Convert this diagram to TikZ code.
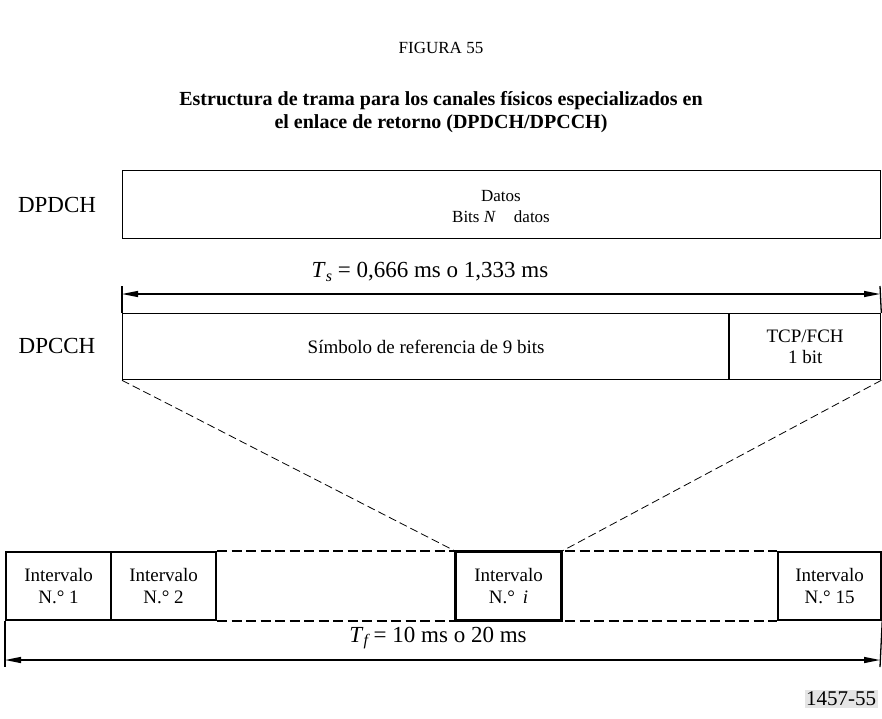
\documentclass[tikz,border=0pt]{standalone}
\usepackage{fontspec}
\setmainfont{Liberation Serif}
\usetikzlibrary{arrows.meta}
\newcommand{\fs}[1]{\fontsize{#1pt}{#1pt}\selectfont}
\newcommand{\isub}[1]{\raisebox{-0.35ex}{\fs{16}\itshape #1}}
\begin{document}
\begin{tikzpicture}[x=1pt,y=-1pt,
  box/.style={draw, line width=1.3pt, inner sep=0pt, anchor=north west, align=center},
  slotbox/.style={draw, line width=2.2pt, inner sep=0pt, anchor=north west, align=center,
    minimum height=68pt, font=\fs{19}},
  lbl/.style={font=\fs{23}, inner sep=0pt},
  dimline/.style={line width=1.3pt, {Triangle[length=16pt,width=6pt]}-{Triangle[length=16pt,width=6pt]}},
  tick/.style={line width=1.3pt},
  zoomline/.style={line width=0.8pt, dash pattern=on 8pt off 4pt},
  gapline/.style={line width=2.2pt, dash pattern=on 10pt off 4.5pt}]
\useasboundingbox (0,0) rectangle (882,718);

% titles
\node[font=\fs{17}] (fig) at (441,48) {FIGURA 55};
\node[font=\fs{20}\bfseries, align=center] (title) at (441,112)
  {Estructura de trama para los canales físicos especializados en\\[3pt]el enlace de retorno (DPDCH/DPCCH)};

% DPDCH
\node[lbl] (dpdchlbl) at (57,205) {DPDCH};
\node[box, minimum width=758pt, minimum height=68pt] (dpdch) at (122,170) {};
\node[font=\fs{17}, align=center, inner sep=0pt] (dpdchtxt) at (501,207)
  {Datos\\[4pt]Bits \textit{N}\hspace{18pt}datos};

% Ts dimension
\coordinate (tsl) at (122,294);
\coordinate (tsr) at (880,294);
\coordinate (tslt) at (122,286);
\coordinate (tsrt) at (880,286);
\draw[dimline] (tsl) -- (tsr);
\node[lbl] (tslbl) at (430,272) {\textit{T}\isub{s} = 0,666 ms o 1,333 ms};

% DPCCH
\node[lbl] (dpcchlbl) at (57,346) {DPCCH};
\node[box, minimum width=607pt, minimum height=66pt, font=\fs{19}] (ref) at (122,313)
  {Símbolo de referencia de 9 bits};
\node[box, minimum width=151pt, minimum height=66pt, font=\fs{19}] (tcp) at (729,313)
  {TCP/FCH\\[2pt]1 bit};
\draw[line width=2.4pt] (tcp.north west) -- (tcp.south west);
\draw[tick] (tslt) -- (ref.north west);
\draw[tick] (tsrt) -- (tcp.north east);

% slots
\node[slotbox, minimum width=105pt] (s1) at (5,551) {Intervalo\\[3pt]N.° 1};
\node[slotbox, minimum width=105pt] (s2) at (110,551) {Intervalo\\[3pt]N.° 2};
\node[slotbox, minimum width=105pt] (si) at (455,551) {Intervalo\\[3pt]N.°\, \textit{i}};
\node[slotbox, minimum width=103pt] (s15) at (777,551) {Intervalo\\[3pt]N.° 15};
\draw[gapline] (s2.north east) -- (s15.north west);
\draw[gapline] (s2.south east) -- (s15.south west);
\draw[slotbox] (si.north west) rectangle (si.south east);

% zoom lines
\draw[zoomline] (ref.south west) -- (si.north west);
\draw[zoomline] (tcp.south east) -- (si.north east);

% Tf dimension
\coordinate (tfl) at (5,660);
\coordinate (tfr) at (880,660);
\coordinate (tflb) at (5,667);
\coordinate (tfrb) at (880,667);
\draw[dimline] (tfl) -- (tfr);
\draw[tick] (s1.south west) -- (tflb);
\draw[tick] (s15.south east) -- (tfrb);
\node[lbl] (tflbl) at (438,638) {\textit{T}\isub{f} = 10 ms o 20 ms};

% figure code
\node[fill=black!10, inner sep=1.5pt, font=\fs{21}] (code) at (841,699) {1457-55};
\end{tikzpicture}
\end{document}
